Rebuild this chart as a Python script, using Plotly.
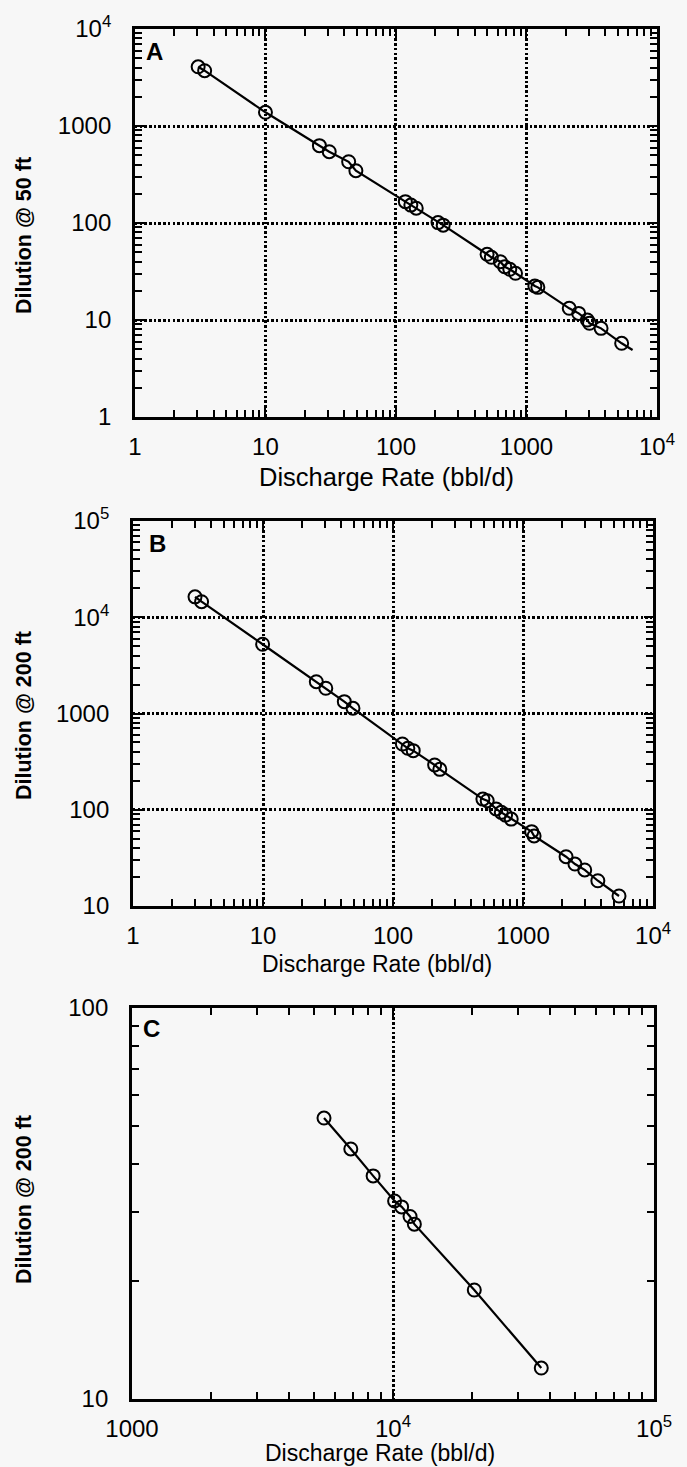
import plotly.graph_objects as go
from plotly.subplots import make_subplots

# ---------------- data ----------------
a_x = [3.05, 3.42, 10.0, 25.9, 30.8, 43.4, 49.3, 118, 130, 143, 210, 230,
       499, 538, 631, 681, 745, 824, 1159, 1222, 2126, 2512, 2925, 3040, 3727, 5360]
a_y = [4080, 3715, 1384, 627, 543, 428, 346, 166, 153, 142, 101, 95,
       47.6, 44.3, 39.9, 35.4, 33.3, 30.3, 22.4, 21.7, 13.2, 11.7, 10.0, 9.25, 8.2, 5.75]
a_tail_x = [6500]
a_tail_y = [4.9]

b_x = [3.0, 3.37, 9.93, 25.7, 30.4, 42.2, 49.2, 118, 130, 143, 209, 229,
       491, 530, 620, 680, 734, 811, 1165, 1216, 2142, 2506, 2980, 3760, 5470]
b_y = [16300, 14500, 5240, 2140, 1830, 1327, 1132, 482, 435, 411, 292, 263,
       129, 124, 102, 94, 88, 80, 59.2, 53.4, 32.5, 27.3, 23.7, 18.3, 12.7]

c_x = [5440, 6890, 8390, 10140, 10790, 11620, 12070, 20480, 36980]
c_y = [52.3, 43.6, 37.2, 32.1, 31.0, 29.3, 28.0, 19.0, 12.0]

# tick labels
a_xticks = [1, 10, 100, 1000, 10000]
a_xlabels = ["1", "10", "100", "1000", "10<sup>4</sup>"]
a_yticks = [1, 10, 100, 1000, 10000]
a_ylabels = ["1", "10", "100", "1000", "10<sup>4</sup>"]
b_xticks = [1, 10, 100, 1000, 10000]
b_xlabels = ["1", "10", "100", "1000", "10<sup>4</sup>"]
b_yticks = [10, 100, 1000, 10000, 100000]
b_ylabels = ["10", "100", "1000", "10<sup>4</sup>", "10<sup>5</sup>"]
c_xticks = [1000, 10000, 100000]
c_xlabels = ["1000", "10<sup>4</sup>", "10<sup>5</sup>"]
c_yticks = [10, 100]
c_ylabels = ["10", "100"]

x_title = "Discharge Rate (bbl/d)"
a_ytitle = "Dilution @ 50 ft"
b_ytitle = "Dilution @ 200 ft"
c_ytitle = "Dilution @ 200 ft"
panel_letters = ["A", "B", "C"]

# ---------------- figure ----------------
W, H = 687, 1467
ML, MR, MT, MB = 132, 20, 29, 68
PW, PH = W - ML - MR, H - MT - MB


def px_x(p):
    return (p - ML) / PW


def px_y(p):
    return (H - MB - p) / PH


fig = make_subplots(rows=3, cols=1)

FONT = "Liberation Sans, Arial, Helvetica, sans-serif"
BG = "#f7f7f7"


def minor_vals(lo_exp, hi_exp):
    vals = []
    for e in range(lo_exp, hi_exp):
        for m in range(2, 10):
            vals.append(m * 10 ** e)
    return vals


def add_panel(row, xs, ys, tail_x=None, tail_y=None):
    lx = list(xs) + (list(tail_x) if tail_x else [])
    ly = list(ys) + (list(tail_y) if tail_y else [])
    fig.add_trace(go.Scatter(x=lx, y=ly, mode="lines",
                             line=dict(color="black", width=2.2),
                             showlegend=False, hoverinfo="skip"), row=row, col=1)
    fig.add_trace(go.Scatter(x=xs, y=ys, mode="markers",
                             marker=dict(symbol="circle-open", size=13,
                                         color="black", line=dict(width=2, color="black")),
                             showlegend=False), row=row, col=1)


add_panel(1, a_x, a_y, a_tail_x, a_tail_y)
add_panel(2, b_x, b_y)
add_panel(3, c_x, c_y)


def axis_style(tickvals, ticktext, rng, minor, grid=True, standoff=6):
    return dict(
        type="log", range=rng, tickmode="array", tickvals=tickvals, ticktext=ticktext,
        ticks="inside", ticklen=9, tickwidth=2.2, tickcolor="black",
        showline=True, linecolor="black", linewidth=2.8, mirror="allticks",
        showgrid=grid, gridcolor="black", gridwidth=2.5, griddash="2.5px,2.2px",
        zeroline=False,
        minor=dict(tickmode="array", tickvals=minor, ticks="inside", ticklen=7,
                   tickwidth=2, tickcolor="black", showgrid=False),
        tickfont=dict(family=FONT, size=24, color="black"),
        ticklabelstandoff=standoff,
    )


fig.update_layout(
    xaxis=axis_style(a_xticks, a_xlabels, [0, 4], minor_vals(0, 4)),
    yaxis=axis_style(a_yticks, a_ylabels, [0, 4], minor_vals(0, 4), standoff=16),
    xaxis2=axis_style(b_xticks, b_xlabels, [0, 4], minor_vals(0, 4)),
    yaxis2=axis_style(b_yticks, b_ylabels, [1, 5], minor_vals(1, 5), standoff=16),
    xaxis3=axis_style(c_xticks, c_xlabels, [3, 5], minor_vals(3, 5)),
    yaxis3=axis_style(c_yticks, c_ylabels, [1, 2], minor_vals(1, 2), standoff=16),
)

# domains from pixel positions
fig.layout.xaxis.domain = [px_x(135), px_x(667)]
fig.layout.xaxis2.domain = [px_x(133), px_x(663)]
fig.layout.xaxis3.domain = [px_x(132), px_x(664)]
fig.layout.yaxis.domain = [px_y(417), px_y(29)]
fig.layout.yaxis2.domain = [px_y(906), px_y(521)]
fig.layout.yaxis3.domain = [px_y(1399), px_y(1008)]

annotations = []
# x titles
for (cx, cy, size) in [(391, 477, 25.5), (382, 964, 23), (385, 1453, 23)]:
    annotations.append(dict(text=x_title, xref="paper", yref="paper",
                            x=px_x(cx), y=px_y(cy), xanchor="center", yanchor="middle",
                            showarrow=False, font=dict(family=FONT, size=size, color="black")))
# y titles
for (txt, cy) in [(a_ytitle, 236), (b_ytitle, 716), (c_ytitle, 1200)]:
    annotations.append(dict(text="<b>" + txt + "</b>", xref="paper", yref="paper",
                            x=px_x(22), y=px_y(cy), xanchor="center", yanchor="middle",
                            textangle=-90, showarrow=False,
                            font=dict(family=FONT, size=21.5, color="black")))
# panel letters
for (letter, cx, cy) in zip(panel_letters, [155, 158, 152], [52, 543, 1028]):
    annotations.append(dict(text="<b>" + letter + "</b>", xref="paper", yref="paper",
                            x=px_x(cx), y=px_y(cy), xanchor="center", yanchor="middle",
                            showarrow=False, font=dict(family=FONT, size=24, color="black")))

fig.update_layout(
    width=W, height=H,
    margin=dict(l=ML, r=MR, t=MT, b=MB),
    paper_bgcolor=BG, plot_bgcolor=BG,
    annotations=annotations,
    showlegend=False,
)

fig.write_html("out.html")
